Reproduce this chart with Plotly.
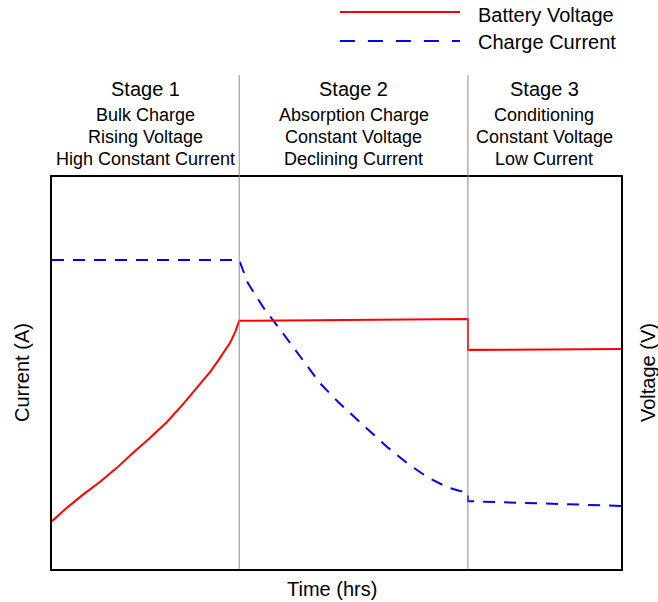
import plotly.graph_objects as go

# ── Colors / fonts ──
RED = '#ff0000'
BLUE = '#0000ff'
GRAY = '#8c8c8c'
FONT = 'Liberation Sans, Arial, sans-serif'

# ── Data (time and values in arbitrary normalized units 0..10) ──
stage_bounds = [3.29, 7.31]
stage_titles = ['Stage 1', 'Stage 2', 'Stage 3']
stage_notes = [
    ['Bulk Charge', 'Rising Voltage', 'High Constant Current'],
    ['Absorption Charge', 'Constant Voltage', 'Declining Current'],
    ['Conditioning', 'Constant Voltage', 'Low Current'],
]

volt_t = [0.0, 0.26, 0.54, 0.84, 1.14, 1.42, 1.72, 2.02, 2.30, 2.55, 2.78, 2.95,
          3.13, 3.22, 3.29, 7.31, 7.31, 10.0]
volt_v = [1.22, 1.56, 1.89, 2.22, 2.58, 2.96, 3.34, 3.75, 4.20, 4.62, 5.03, 5.38,
          5.77, 6.05, 6.33, 6.38, 5.59, 5.61]

curr_t = [0.0, 3.29, 3.44, 3.71, 4.04, 4.36, 4.71, 5.03, 5.33, 5.62, 5.91, 6.24,
          6.59, 6.94, 7.17, 7.31, 7.31, 10.0]
curr_a = [7.88, 7.88, 7.30, 6.68, 6.05, 5.41, 4.74, 4.26, 3.85, 3.47, 3.09, 2.70,
          2.35, 2.09, 1.99, 1.96, 1.73, 1.61]

fig = go.Figure()

fig.add_trace(go.Scatter(
    x=curr_t, y=curr_a, name='Charge Current', mode='lines',
    line=dict(color=BLUE, width=2, dash='12px,9px'),
))
fig.add_trace(go.Scatter(
    x=volt_t, y=volt_v, name='Battery Voltage', mode='lines', yaxis='y2',
    line=dict(color=RED, width=2),
))

shapes = []
for b in stage_bounds:
    shapes.append(dict(type='line', xref='x', yref='paper', x0=b, x1=b, y0=0, y1=1.26,
                       line=dict(color=GRAY, width=1)))

# manual legend (long sample lines like the original)
shapes.append(dict(type='line', xref='paper', yref='paper', x0=0.506, x1=0.717,
                   y0=1.421, y1=1.421, line=dict(color=RED, width=2)))
shapes.append(dict(type='line', xref='paper', yref='paper', x0=0.506, x1=0.717,
                   y0=1.347, y1=1.347, line=dict(color=BLUE, width=2, dash='15px,13px')))


def label(text, x, y, size=20, xref='paper', angle=0):
    return dict(text=text, xref=xref, yref='paper', x=x, y=y, xanchor='center',
                yanchor='middle', showarrow=False, textangle=angle,
                font=dict(size=size))


annotations = [
    dict(label('Battery Voltage', 0.745, 1.413), xanchor='left'),
    dict(label('Charge Current', 0.745, 1.344), xanchor='left'),
    label('Current (A)', -0.0527, 0.5, angle=-90),
    label('Voltage (V)', 1.0475, 0.5, angle=-90),
    label('Time (hrs)', 0.492, -0.051),
]

edges = [0.0] + stage_bounds + [10.0]
for i, title in enumerate(stage_titles):
    cx = (edges[i] + edges[i + 1]) / 2
    annotations.append(label(title, cx, 1.2245, xref='x'))
    for j, note in enumerate(stage_notes[i]):
        annotations.append(label(note, cx, 1.158 - j * 0.056, size=18, xref='x'))

axis_common = dict(range=[0, 10], showticklabels=False, ticks='', showgrid=False,
                   zeroline=False, fixedrange=True)

fig.update_layout(
    width=658, height=602,
    paper_bgcolor='white', plot_bgcolor='white',
    font=dict(family=FONT, color='#000000'),
    margin=dict(l=52, r=37, t=177, b=33),
    showlegend=False,
    xaxis=dict(**axis_common, showline=True, linecolor='black', linewidth=2, mirror=True),
    yaxis=dict(**axis_common, showline=True, linecolor='black', linewidth=2, mirror=True),
    yaxis2=dict(**axis_common, overlaying='y', side='right', showline=False),
    shapes=shapes,
    annotations=annotations,
)

# drop the default page margin so the 658x602 figure fills the window exactly
fig.write_html(
    'out.html',
    config={'displayModeBar': False},
    post_script="document.body.style.margin='0';document.body.style.overflow='hidden';",
)
